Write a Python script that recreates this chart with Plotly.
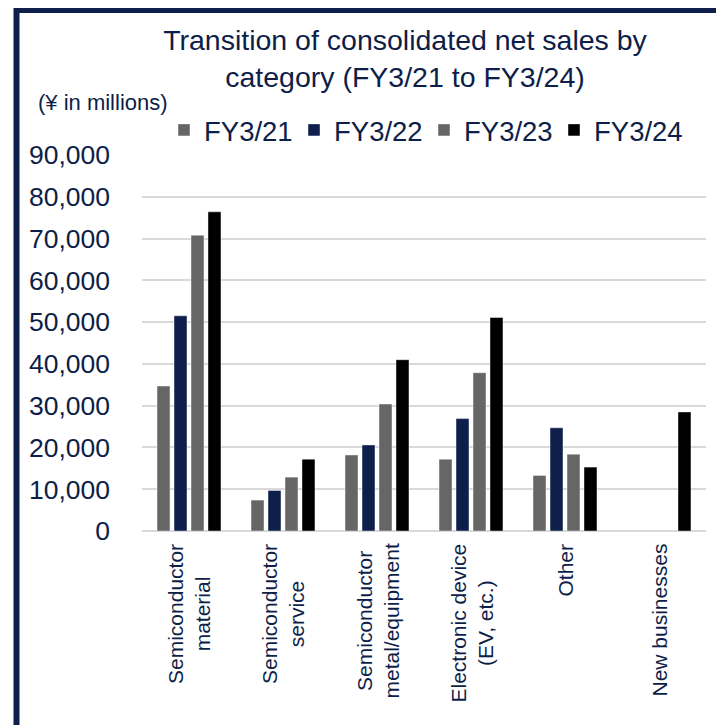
import plotly.graph_objects as go

categories = ["Semiconductor<br>material", "Semiconductor<br>service",
              "Semiconductor<br>metal/equipment", "Electronic device<br>(EV, etc.)",
              "Other", "New businesses"]
series_names = ["FY3/21", "FY3/22", "FY3/23", "FY3/24"]
fy21 = [34700, 7400, 18200, 17200, 13300, None]
fy22 = [51500, 9700, 20600, 26900, 24700, None]
fy23 = [70800, 12900, 30400, 37900, 18400, None]
fy24 = [76400, 17200, 41000, 51100, 15300, 28500]
y_ticks = [0, 10000, 20000, 30000, 40000, 50000, 60000, 70000, 80000, 90000]

NAVY = "#0E1F4B"
TEXT = "#0D1E48"
GRAY = "#666666"
colors = [GRAY, NAVY, GRAY, "#000000"]
series = [fy21, fy22, fy23, fy24]
FONT = "Liberation Sans, Arial, sans-serif"

# page has an 8px body margin: work in figure pixels = page pixels - 8
OFF = 8
W, H = 724 - OFF, 725 - OFF
PL, PR, PT, PB = 142 - OFF, 706 - OFF, 155 - OFF, 531 - OFF  # plot box in figure px
L, R, T, B = PL, W - PR, PT, H - PB
pw, ph = PR - PL, PB - PT


def px(xp):  # page x -> paper
    return (xp - OFF - PL) / pw


def py(yp):  # page y -> paper
    return (PB - (yp - OFF)) / ph


fig = go.Figure()
for name, vals, c in zip(series_names, series, colors):
    fig.add_trace(go.Bar(
        x=categories, y=vals, name=name,
        marker=dict(color=c, line=dict(color="rgba(255,255,255,0.55)", width=0.8)),
    ))

# category labels (centred multi-line, rotated)
for cat in categories:
    fig.add_annotation(
        x=cat, xref="x", y=py(542), yref="paper",
        text=cat, textangle=-90, showarrow=False,
        xanchor="center", yanchor="top", align="center",
        font=dict(family=FONT, size=21, color=TEXT),
    )

fig.add_annotation(
    x=px(36), xref="paper", y=py(103), yref="paper", text="(¥ in millions)",
    xanchor="left", yanchor="middle",
    showarrow=False, font=dict(family=FONT, size=22, color=TEXT),
)

# frame
fig.add_shape(
    type="rect", xref="paper", yref="paper",
    x0=px(16.5), x1=px(780),
    y0=py(780), y1=py(10),
    line=dict(color=NAVY, width=6), fillcolor="rgba(0,0,0,0)",
)

fig.update_layout(
    width=W, height=H,
    margin=dict(l=L, r=R, t=T, b=B, autoexpand=False),
    paper_bgcolor="white", plot_bgcolor="white",
    font=dict(family=FONT, color=TEXT),
    title=dict(
        text="Transition of consolidated net sales by<br>category (FY3/21 to FY3/24)",
        x=(405 - OFF) / W, xref="container", xanchor="center",
        y=1 - 42 / H, yref="container", yanchor="middle",
        font=dict(family=FONT, size=28.5, color=TEXT),
    ),
    barmode="group", bargap=0.277, bargroupgap=0.235,
    showlegend=True,
    legend=dict(
        orientation="h", x=px(164), xanchor="left",
        y=py(130), yanchor="middle", entrywidth=85,
        font=dict(family=FONT, size=27.5, color=TEXT),
        bgcolor="rgba(0,0,0,0)", itemclick=False,
    ),
    xaxis=dict(showticklabels=False, showgrid=False, showline=False, ticks="",
               automargin=False),
    yaxis=dict(
        range=[0, 90000], tickvals=y_ticks, tickformat=",d",
        showgrid=True, gridcolor="#D9D9D9", gridwidth=1.5,
        zeroline=True, zerolinecolor="#D9D9D9", zerolinewidth=1.5,
        showline=False, ticks="", ticklabelstandoff=31, automargin=False,
        tickfont=dict(family=FONT, size=26.5, color=TEXT),
    ),
)

fig.write_html("out.html")
